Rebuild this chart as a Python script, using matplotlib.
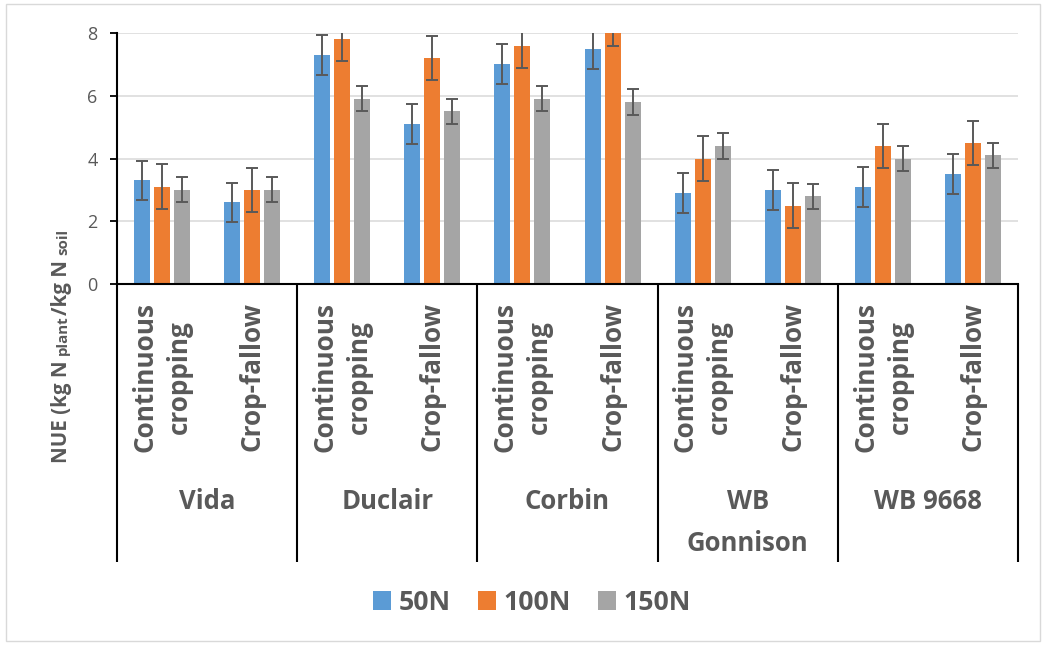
import matplotlib
matplotlib.use("Agg")
import matplotlib.pyplot as plt
from matplotlib.patches import Rectangle, Patch
from matplotlib.transforms import blended_transform_factory
import numpy as np

# ---------------- data ----------------
cultivars = ["Vida", "Duclair", "Corbin", "WB\nGonnison", "WB 9668"]
systems = ["Continuous\ncropping", "Crop-fallow"]
series_names = ["50N", "100N", "150N"]

nue_50N = [3.3, 2.6, 7.3, 5.1, 7.0, 7.5, 2.9, 3.0, 3.1, 3.5]
nue_100N = [3.1, 3.0, 7.8, 7.2, 7.6, 8.3, 4.0, 2.5, 4.4, 4.5]
nue_150N = [3.0, 3.0, 5.9, 5.5, 5.9, 5.8, 4.4, 2.8, 4.0, 4.1]

err_50N = [0.63, 0.63, 0.64, 0.63, 0.64, 0.64, 0.64, 0.64, 0.64, 0.63]
err_100N = [0.71, 0.71, 0.70, 0.71, 0.70, 0.70, 0.71, 0.71, 0.71, 0.71]
err_150N = [0.40, 0.40, 0.40, 0.40, 0.40, 0.40, 0.40, 0.40, 0.40, 0.40]

y_ticks = [0, 2, 4, 6, 8]

colors = ["#5B9BD5", "#ED7D31", "#A5A5A5"]
text_color = "#595959"

# ---------------- figure ----------------
plt.rcParams['font.family'] = ['Open Sans', 'DejaVu Sans']
W, H = 1047, 649
fig = plt.figure(figsize=(W / 100, H / 100), dpi=100)

def fx(px):
    return px / W

def fy(py):
    return 1 - py / H

# outer chart border
fig.patches.append(Rectangle((fx(6), fy(641)), fx(1040) - fx(6), fy(4) - fy(641),
                             transform=fig.transFigure, facecolor='none',
                             edgecolor='#d9d9d9', linewidth=1.0))

ax_left, ax_right, ax_top, ax_bottom = 117, 1018, 33, 284
ax = fig.add_axes([fx(ax_left), fy(ax_bottom), fx(ax_right) - fx(ax_left),
                   (ax_bottom - ax_top) / H])

n_cat = len(nue_50N)
x = np.arange(n_cat) + 0.5
offsets = [-0.222, 0.0, 0.222]
bar_w = 0.178
all_vals = [nue_50N, nue_100N, nue_150N]
all_errs = [err_50N, err_100N, err_150N]

for vals, errs, off, c, name in zip(all_vals, all_errs, offsets, colors, series_names):
    ax.bar(x + off, vals, width=bar_w, color=c, edgecolor='none', label=name, zorder=2)
    ax.errorbar(x + off, vals, yerr=errs, fmt='none', ecolor='#595959',
                elinewidth=1.4, capsize=4.3, capthick=1.4, zorder=3)

ax.set_xlim(0, n_cat)
ax.set_ylim(0, 8)
ax.set_yticks(y_ticks)
ax.set_yticklabels([str(t) for t in y_ticks])
ax.yaxis.grid(True, color='#d9d9d9', linewidth=1.1, zorder=0)
ax.set_axisbelow(True)
ax.set_xticks([])
for s in ['top', 'right']:
    ax.spines[s].set_visible(False)
ax.spines['left'].set_linewidth(1.5)
ax.spines['bottom'].set_linewidth(1.5)
ax.spines['left'].set_color('black')
ax.spines['bottom'].set_color('black')
ax.tick_params(axis='y', direction='out', length=5, width=1.3, color='black',
               pad=9, labelsize=13, labelcolor=text_color)

# ---------------- multi-level category axis ----------------
tr = blended_transform_factory(ax.transData, ax.transAxes)
ax_h = ax_bottom - ax_top

def ay(py):
    return -(py - ax_bottom) / ax_h

for xb in range(0, n_cat + 1, 2):
    ax.plot([xb, xb], [0, ay(562)], color='black', lw=1.5, transform=tr,
            clip_on=False, solid_capstyle='butt')

for i in range(n_cat):
    ax.text(x[i], ay(302), systems[i % 2], transform=tr, rotation=90,
            ha='center', va='top', multialignment='center', fontsize=18.8,
            fontweight='bold', color=text_color, linespacing=1.35)

for j, cv in enumerate(cultivars):
    ax.text(2 * j + 1, ay(488), cv, transform=tr, ha='center', va='top',
            fontsize=18.5, fontweight='bold', color=text_color, linespacing=1.7)

# ---------------- legend ----------------
handles = [Patch(facecolor=c, edgecolor='none', label=n) for c, n in zip(colors, series_names)]
leg = fig.legend(handles=handles, loc='center', ncol=3, frameon=False,
                 bbox_to_anchor=(fx(532), fy(603)), bbox_transform=fig.transFigure,
                 handlelength=0.68, handleheight=0.68, handletextpad=0.3,
                 columnspacing=1.0, prop={'size': 19.2, 'weight': 'bold'})
for t in leg.get_texts():
    t.set_color(text_color)

# ---------------- y label with smaller words ----------------
fig.canvas.draw()
r = fig.canvas.get_renderer()

def measure(s, size):
    t = fig.text(0, 0, s, fontsize=size, fontweight='bold')
    w = t.get_window_extent(r).width
    t.remove()
    return w

space = measure("N N", 14.8) - measure("NN", 14.8)
pieces = [("NUE (kg N", 14.8, 0), ("plant", 10.8, space), ("/kg N", 14.8, 0), ("soil", 10.8, space)]
base_x = 67
cur_py = 463.0  # pixel row (from top) where the rotated label begins
for s, size, gap in pieces:
    cur_py -= gap
    t = fig.text(fx(base_x), fy(cur_py), s, fontsize=size, fontweight='bold', color=text_color,
                 rotation=90, rotation_mode='anchor', ha='left', va='baseline',
                 transform=fig.transFigure)
    bb = t.get_window_extent(r)
    cur_py -= bb.height

fig.savefig('out.png', dpi=100)
